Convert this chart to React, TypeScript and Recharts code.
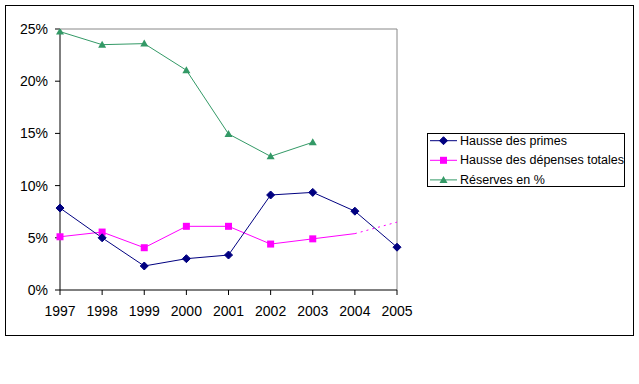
import React from "react";
import {
  Legend,
  Line,
  LineChart,
  ReferenceLine,
  XAxis,
  YAxis,
} from "recharts";

const years = ["1997", "1998", "1999", "2000", "2001", "2002", "2003", "2004", "2005"];
const primes = [7.85, 5.0, 2.3, 3.0, 3.35, 9.1, 9.35, 7.55, 4.1];
const depenses = [5.1, 5.55, 4.05, 6.1, 6.1, 4.4, 4.9, 5.4, null];
const depensesTrend = [null, null, null, null, null, null, null, 5.4, 6.5];
const reserves = [24.75, 23.5, 23.6, 21.05, 14.95, 12.8, 14.15, null, null];
const yTicks = [0, 5, 10, 15, 20, 25];

const NAVY = "#000080";
const MAGENTA = "#FF00FF";
const GREEN = "#339966";
const FONT = "'Liberation Sans', Arial, sans-serif";

const data = years.map((year, i) => ({
  year,
  primes: primes[i],
  depenses: depenses[i],
  depensesTrend: depensesTrend[i],
  reserves: reserves[i],
}));

const Diamond = ({ cx, cy }: { cx: number; cy: number }) => (
  <polygon
    points={`${cx},${cy - 4} ${cx + 4},${cy} ${cx},${cy + 4} ${cx - 4},${cy}`}
    fill={NAVY}
    stroke={NAVY}
  />
);

const Square = ({ cx, cy }: { cx: number; cy: number }) => (
  <rect x={cx - 3.5} y={cy - 3.5} width={7} height={7} fill={MAGENTA} />
);

const Triangle = ({ cx, cy }: { cx: number; cy: number }) => (
  <polygon
    points={`${cx},${cy - 4} ${cx + 4},${cy + 3} ${cx - 4},${cy + 3}`}
    fill={GREEN}
  />
);

// only draws a marker where the point has a value (2004 of the costs line has none)
const makeDot = (Shape: any, skip?: string) => (props: any) => {
  const { cx, cy, payload, index } = props;
  if (cy == null || cx == null || payload.year === skip) {
    return <g key={`d-${index}`} />;
  }
  return <Shape key={`d-${index}`} cx={cx} cy={cy} />;
};

const legendRows = [
  { label: "Hausse des primes", color: NAVY, Shape: Diamond },
  { label: "Hausse des dépenses totales", color: MAGENTA, Shape: Square },
  { label: "Réserves en %", color: GREEN, Shape: Triangle },
];

const LegendBox = () => (
  <svg width={198} height={54} style={{ display: "block" }}>
    <rect x={0.5} y={0.5} width={197} height={53} fill="#fff" stroke="#000" />
    {legendRows.map((row, i) => {
      const y = 7.7 + i * 19.6;
      return (
        <g key={row.label}>
          <line x1={3} x2={30} y1={y} y2={y} stroke={row.color} />
          <row.Shape cx={16.5} cy={y} />
          <text
            x={33}
            y={y}
            dominantBaseline="central"
            fontSize={12.5}
            fontFamily={FONT}
            fill="#000"
          >
            {row.label}
          </text>
        </g>
      );
    })}
  </svg>
);

const tickStyle = { fill: "#000", fontSize: 14, fontFamily: FONT };

export default function App() {
  return (
    <div
      style={{
        position: "absolute",
        left: 0,
        top: 0,
        width: 639,
        height: 384,
        background: "#fff",
      }}
    >
      <div
        style={{
          position: "absolute",
          left: 5,
          top: 5,
          width: 629,
          height: 331,
          border: "1px solid #000",
          boxSizing: "border-box",
        }}
      />
      <LineChart
        width={639}
        height={384}
        data={data}
        margin={{ top: 29, right: 242, bottom: 64, left: 0 }}
      >
        <XAxis
          dataKey="year"
          tick={tickStyle}
          tickSize={5}
          tickMargin={11}
          height={30}
          axisLine={{ stroke: "#000" }}
          tickLine={{ stroke: "#000" }}
          interval={0}
        />
        <YAxis
          domain={[0, 25]}
          ticks={yTicks}
          tickFormatter={(v: number) => `${v}%`}
          tick={tickStyle}
          tickSize={5}
          tickMargin={7}
          width={60}
          axisLine={{ stroke: "#000" }}
          tickLine={{ stroke: "#000" }}
          allowDataOverflow
        />
        <ReferenceLine y={25} stroke="#888" />
        <ReferenceLine x="2005" stroke="#888" />
        <Line
          dataKey="depensesTrend"
          stroke={MAGENTA}
          strokeDasharray="2 4"
          dot={false}
          isAnimationActive={false}
        />
        <Line
          dataKey="depenses"
          stroke={MAGENTA}
          dot={makeDot(Square, "2004")}
          activeDot={false}
          isAnimationActive={false}
        />
        <Line
          dataKey="primes"
          stroke={NAVY}
          dot={makeDot(Diamond)}
          activeDot={false}
          isAnimationActive={false}
        />
        <Line
          dataKey="reserves"
          stroke={GREEN}
          dot={makeDot(Triangle)}
          activeDot={false}
          isAnimationActive={false}
        />
        <Legend
          layout="horizontal"
          verticalAlign="middle"
          align="center"
          content={() => <LegendBox />}
          wrapperStyle={{ left: 427, top: 133, width: 198, height: 54 }}
        />
      </LineChart>
    </div>
  );
}
